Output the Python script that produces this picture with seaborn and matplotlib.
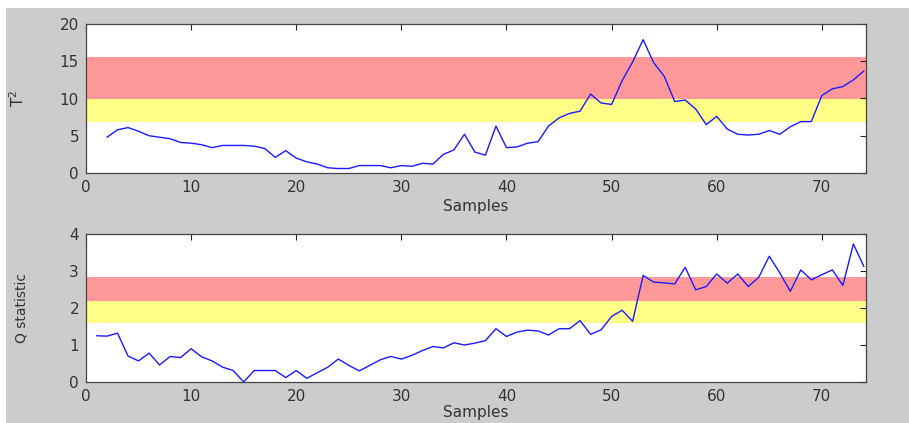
import numpy as np
import pandas as pd
import matplotlib
matplotlib.use("Agg")
import matplotlib.pyplot as plt
import seaborn as sns
from matplotlib.patches import Rectangle

sns.set_theme(style="white")
plt.rcParams['font.family'] = ['DejaVu Sans']

# ---- data ----
t2_samples = list(range(2, 75))
t2_values = [4.8, 5.8, 6.1, 5.6, 5.0, 4.8, 4.6, 4.1, 4.0, 3.8,
             3.4, 3.7, 3.7, 3.7, 3.6, 3.3, 2.1, 3.0, 2.0, 1.5,
             1.2, 0.7, 0.6, 0.6, 1.0, 1.0, 1.0, 0.7, 1.0, 0.9,
             1.3, 1.2, 2.5, 3.1, 5.2, 2.8, 2.4, 6.3, 3.4, 3.5,
             4.0, 4.2, 6.3, 7.4, 8.0, 8.3, 10.6, 9.4, 9.2, 12.4,
             14.9, 17.9, 14.8, 13.0, 9.6, 9.8, 8.6, 6.5, 7.6, 5.9,
             5.2, 5.1, 5.2, 5.7, 5.2, 6.2, 6.9, 6.9, 10.4, 11.3,
             11.6, 12.5, 13.7]

q_samples = list(range(1, 75))
q_values = [1.25, 1.24, 1.32, 0.70, 0.57, 0.78, 0.46, 0.69, 0.66, 0.90,
            0.68, 0.57, 0.40, 0.31, 0.00, 0.31, 0.31, 0.31, 0.12, 0.31,
            0.10, 0.25, 0.40, 0.62, 0.45, 0.30, 0.45, 0.60, 0.69, 0.62,
            0.72, 0.85, 0.96, 0.92, 1.06, 1.00, 1.05, 1.12, 1.44, 1.23,
            1.35, 1.40, 1.38, 1.27, 1.44, 1.44, 1.66, 1.29, 1.41, 1.77,
            1.94, 1.64, 2.88, 2.70, 2.68, 2.65, 3.10, 2.49, 2.58, 2.92,
            2.67, 2.92, 2.58, 2.83, 3.40, 2.95, 2.45, 3.03, 2.76, 2.90,
            3.03, 2.61, 3.73, 3.12]

t2_warning = (6.8, 10.0)
t2_alarm = (10.0, 15.6)
q_warning = (1.6, 2.18)
q_alarm = (2.18, 2.85)

x_ticks = [0, 10, 20, 30, 40, 50, 60, 70]
t2_ticks = [0, 5, 10, 15, 20]
q_ticks = [0, 1, 2, 3, 4]

# ---- figure ----
W, H = 909, 423
fig = plt.figure(figsize=(W / 100, H / 100), dpi=100, facecolor="white")
fig.patches.append(Rectangle((6 / W, 0), 1 - 6 / W, 1 - 8 / H,
                             transform=fig.transFigure, facecolor="#cccccc",
                             edgecolor="none", zorder=-10))

ax1 = fig.add_axes([86 / W, 1 - 173 / H, 780 / W, 149 / H])
ax2 = fig.add_axes([86 / W, 1 - 382 / H, 780 / W, 148 / H])

red = "#ff9999"
yellow = "#ffff88"
line_color = "#1a1aff"

df1 = pd.DataFrame({"Samples": t2_samples, "T2": t2_values})
df2 = pd.DataFrame({"Samples": q_samples, "Q": q_values})

for ax, df, ycol, warn, alarm, yt, ylim, ylabel, lx, xpad in [
    (ax1, df1, "T2", t2_warning, t2_alarm, t2_ticks, (0, 20), "T$^2$", -0.076, 3),
    (ax2, df2, "Q", q_warning, q_alarm, q_ticks, (0, 4), "Q statistic", -0.074, 1),
]:
    ax.set_facecolor("white")
    ax.axhspan(warn[0], warn[1], color=yellow, lw=0, zorder=0)
    ax.axhspan(alarm[0], alarm[1], color=red, lw=0, zorder=0)
    sns.lineplot(data=df, x="Samples", y=ycol, ax=ax, color=line_color,
                 linewidth=1.0, zorder=3)
    ax.set_xlim(0, 74.2)
    ax.set_ylim(*ylim)
    ax.set_xticks(x_ticks)
    ax.set_yticks(yt)
    ax.tick_params(direction="in", length=4, width=0.8, colors="#222222",
                   labelsize=11, top=True, right=True, pad=5,
                   labelcolor="#333333")
    for s in ax.spines.values():
        s.set_color("#444444")
        s.set_linewidth(0.9)
    ax.set_xlabel("Samples", fontsize=11, color="#333333", labelpad=xpad)
    ax.set_ylabel(ylabel, fontsize=11 if ycol == "T2" else 10,
                  color="#333333")
    ax.yaxis.set_label_coords(lx, 0.5)
    ax.grid(False)

fig.savefig("out.png", dpi=100, facecolor=fig.get_facecolor())
